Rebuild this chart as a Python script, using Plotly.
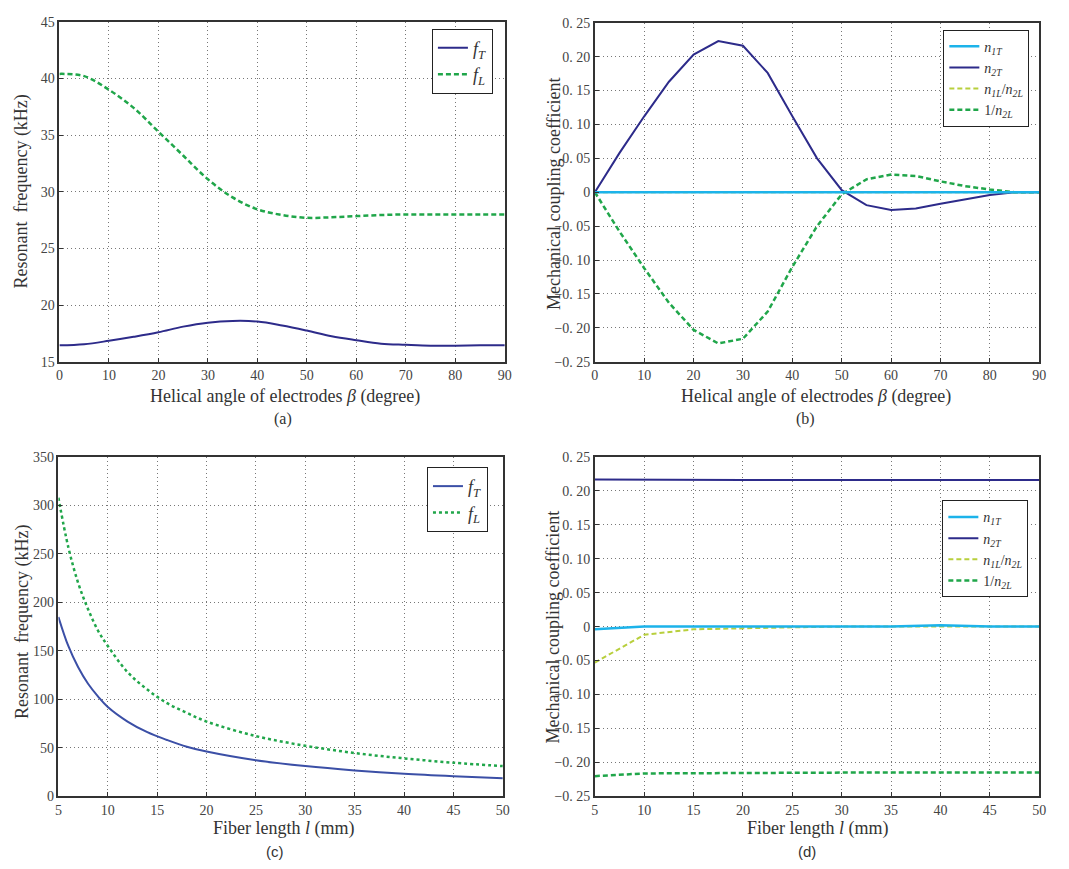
import plotly.graph_objects as go

# ---- (a) resonant frequency vs helical angle ----
beta = [0, 5, 10, 15, 20, 25, 30, 35, 40, 45, 50, 55, 60, 65, 70, 75, 80, 85, 90]
fT_beta = [16.45, 16.55, 16.85, 17.2, 17.6, 18.1, 18.45, 18.6, 18.55, 18.2, 17.75, 17.25, 16.9, 16.6, 16.5, 16.42, 16.42, 16.45, 16.45]
fL_beta = [40.4, 40.2, 39.0, 37.4, 35.3, 33.2, 31.1, 29.5, 28.45, 27.95, 27.7, 27.75, 27.85, 27.95, 28.0, 28.0, 28.0, 28.0, 28.0]

# ---- (b) coupling coefficients vs helical angle ----
n1T_beta = [0.0] * 19
n2T_beta = [0.0, 0.058, 0.112, 0.163, 0.203, 0.223, 0.216, 0.176, 0.112, 0.05, 0.003, -0.019, -0.026, -0.024, -0.017, -0.01, -0.004, 0.0, 0.0]
n1L_n2L_beta = [0.0] * 19
inv_n2L_beta = [0.0, -0.058, -0.112, -0.163, -0.203, -0.223, -0.216, -0.176, -0.11, -0.05, -0.003, 0.019, 0.026, 0.024, 0.016, 0.009, 0.004, 0.0, 0.0]

# ---- (c) resonant frequency vs fiber length ----
length_c = [5, 6, 7, 8, 9, 10, 12, 14, 16, 18, 20, 25, 30, 35, 40, 45, 50]
fT_len = [185, 155, 133, 116, 103, 92, 77, 66, 58, 51, 46, 37, 31, 26.5, 23, 20.5, 18.5]
fL_len = [308, 257, 220, 193, 171, 155, 128, 110, 96, 86, 77, 62, 52, 44.5, 39, 34.5, 31]

# ---- (d) coupling coefficients vs fiber length ----
length_d = [5, 10, 15, 20, 25, 30, 35, 40, 45, 50]
n1T_len = [-0.004, 0.0, 0.0, 0.0, 0.0, 0.0, 0.0, 0.002, 0.0, 0.0]
n2T_len = [0.217, 0.2165, 0.2163, 0.2162, 0.2163, 0.2162, 0.2163, 0.2163, 0.2162, 0.2163]
n1L_n2L_len = [-0.053, -0.012, -0.004, -0.002, -0.001, 0.0, 0.0, 0.0, 0.0, 0.0]
inv_n2L_len = [-0.2205, -0.2165, -0.2162, -0.2158, -0.2158, -0.2145, -0.215, -0.215, -0.215, -0.215]

coef_ticks = [0.25, 0.20, 0.15, 0.10, 0.05, 0, -0.05, -0.10, -0.15, -0.20, -0.25]
NB = "\u00a0"
coef_ticktext = [f"0.{NB}25", f"0.{NB}20", f"0.{NB}15", f"0.{NB}10", f"0.{NB}05", "0",
                 f"\u22120.{NB}05", f"\u22120.{NB}10", f"\u22120.{NB}15", f"\u22120.{NB}20", f"\u22120.{NB}25"]

NAVY = "#2d2b8a"
BLUE = "#3b4fa6"
GREEN = "#20a64a"
CYAN = "#1cb3ea"
LIME = "#b8cf3c"
SERIF = "Liberation Serif"
SANS = "Liberation Sans"

W, H = 1069, 869

def px_x(p):
    return p / W

def px_y(p):
    return 1 - p / H

fig = go.Figure()

lab_fT = "<i>f<sub>T</sub></i>"
lab_fL = "<i>f<sub>L</sub></i>"
lab_n1T = "<i>n<sub>1T</sub></i>"
lab_n2T = "<i>n<sub>2T</sub></i>"
lab_n1L = "<i>n<sub>1L</sub></i>/<i>n<sub>2L</sub></i>"
lab_inv = "1/<i>n<sub>2L</sub></i>"

dash_g = "5px,3px"

# panel (a)
fig.add_trace(go.Scatter(x=beta, y=fT_beta, mode="lines", name=lab_fT, line_shape="spline",
                         line=dict(color=NAVY, width=2), xaxis="x", yaxis="y", legend="legend"))
fig.add_trace(go.Scatter(x=beta, y=fL_beta, mode="lines", name=lab_fL, line_shape="spline",
                         line=dict(color=GREEN, width=2.5, dash=dash_g), xaxis="x", yaxis="y", legend="legend"))
# panel (b)
fig.add_trace(go.Scatter(x=beta, y=n2T_beta, mode="lines", name=lab_n2T,
                         line=dict(color=NAVY, width=2), xaxis="x2", yaxis="y2", legend="legend2", legendrank=2))
fig.add_trace(go.Scatter(x=beta, y=n1L_n2L_beta, mode="lines", name=lab_n1L,
                         line=dict(color=LIME, width=2, dash=dash_g), xaxis="x2", yaxis="y2", legend="legend2", legendrank=3))
fig.add_trace(go.Scatter(x=beta, y=inv_n2L_beta, mode="lines", name=lab_inv,
                         line=dict(color=GREEN, width=2.5, dash=dash_g), xaxis="x2", yaxis="y2", legend="legend2", legendrank=4))
fig.add_trace(go.Scatter(x=beta, y=n1T_beta, mode="lines", name=lab_n1T,
                         line=dict(color=CYAN, width=2.5), xaxis="x2", yaxis="y2", legend="legend2", legendrank=1))
# panel (c)
fig.add_trace(go.Scatter(x=length_c, y=fT_len, mode="lines", name=lab_fT, line_shape="spline",
                         line=dict(color=BLUE, width=2), xaxis="x3", yaxis="y3", legend="legend3"))
fig.add_trace(go.Scatter(x=length_c, y=fL_len, mode="lines", name=lab_fL, line_shape="spline",
                         line=dict(color=GREEN, width=2.5, dash="3px,3px"), xaxis="x3", yaxis="y3", legend="legend3"))
# panel (d)
fig.add_trace(go.Scatter(x=length_d, y=n2T_len, mode="lines", name=lab_n2T,
                         line=dict(color=NAVY, width=2), xaxis="x4", yaxis="y4", legend="legend4", legendrank=2))
fig.add_trace(go.Scatter(x=length_d, y=n1L_n2L_len, mode="lines", name=lab_n1L,
                         line=dict(color=LIME, width=2, dash=dash_g), xaxis="x4", yaxis="y4", legend="legend4", legendrank=3))
fig.add_trace(go.Scatter(x=length_d, y=inv_n2L_len, mode="lines", name=lab_inv,
                         line=dict(color=GREEN, width=2.5, dash=dash_g), xaxis="x4", yaxis="y4", legend="legend4", legendrank=4))
fig.add_trace(go.Scatter(x=length_d, y=n1T_len, mode="lines", name=lab_n1T,
                         line=dict(color=CYAN, width=2.5), xaxis="x4", yaxis="y4", legend="legend4", legendrank=1))

# plot areas in pixels: (left, right, top, bottom)
areas = {
    "1": (56, 506, 15, 361),
    "2": (597, 1046, 16, 361),
    "3": (55, 504, 458, 803),
    "4": (597, 1046, 458, 803),
}

axis_common = dict(
    showline=True, linecolor="#333333", linewidth=1.5, mirror=True,
    showgrid=True, gridcolor="#777777", griddash="1px,3px", gridwidth=1,
    ticks="inside", ticklen=4, tickcolor="#333333",
    tickfont=dict(family=SERIF, size=14, color="#444444"),
    zeroline=False,
)

xcfg = {
    "1": dict(range=[0, 90], tickvals=list(range(0, 91, 10))),
    "2": dict(range=[0, 90], tickvals=list(range(0, 91, 10))),
    "3": dict(range=[5, 50], tickvals=list(range(5, 51, 5))),
    "4": dict(range=[5, 50], tickvals=list(range(5, 51, 5))),
}
ycfg = {
    "1": dict(range=[15, 45], tickvals=list(range(15, 46, 5))),
    "2": dict(range=[-0.25, 0.25], tickvals=coef_ticks, ticktext=coef_ticktext),
    "3": dict(range=[0, 350], tickvals=list(range(0, 351, 50))),
    "4": dict(range=[-0.25, 0.25], tickvals=coef_ticks, ticktext=coef_ticktext),
}

layout = dict(
    width=W, height=H,
    margin=dict(l=0, r=0, t=0, b=0),
    paper_bgcolor="white", plot_bgcolor="white",
    showlegend=True,
    font=dict(family=SERIF, size=14, color="#333333"),
)
for k, (l, r, t, b) in areas.items():
    xa = "xaxis" if k == "1" else f"xaxis{k}"
    ya = "yaxis" if k == "1" else f"yaxis{k}"
    xname = "x" if k == "1" else f"x{k}"
    yname = "y" if k == "1" else f"y{k}"
    layout[xa] = dict(axis_common, domain=[px_x(l), px_x(r)], anchor=yname, **xcfg[k])
    layout[ya] = dict(axis_common, domain=[px_y(b), px_y(t)], anchor=xname, **ycfg[k])

legend_common = dict(
    bgcolor="white", bordercolor="#222222", borderwidth=1,
    xanchor="right", yanchor="top", tracegroupgap=0,
    itemwidth=30, traceorder="normal",
)
layout["legend"] = dict(legend_common, x=px_x(494), y=px_y(22),
                        font=dict(family=SERIF, size=18, color="#333333"))
layout["legend2"] = dict(legend_common, x=px_x(1036), y=px_y(23),
                         font=dict(family=SERIF, size=14, color="#333333"))
layout["legend3"] = dict(legend_common, x=px_x(489), y=px_y(468),
                         font=dict(family=SERIF, size=18, color="#333333"))
layout["legend4"] = dict(legend_common, x=px_x(1035), y=px_y(502),
                         font=dict(family=SERIF, size=14, color="#333333"))

fig.update_layout(**layout)

# axis titles and panel captions
title_font = dict(family=SERIF, size=18, color="#333333")
cap_serif = dict(family=SERIF, size=16, color="#333333")
cap_sans = dict(family=SANS, size=15, color="#333333")
texts = [
    (284, 396, "Helical angle of electrodes <i>\u03b2</i> (degree)", title_font, 0),
    (820, 396, "Helical angle of electrodes <i>\u03b2</i> (degree)", title_font, 0),
    (283, 836, "Fiber length <i>l</i> (mm)", title_font, 0),
    (822, 836, "Fiber length <i>l</i> (mm)", title_font, 0),
    (18, 188, "Resonant  frequency (kHz)", title_font, -90),
    (555, 190, "Mechanical coupling coefficient", title_font, -90),
    (18, 626, "Resonant  frequency (kHz)", title_font, -90),
    (555, 631, "Mechanical coupling coefficient", title_font, -90),
    (282, 419, "(a)", cap_serif, 0),
    (810, 419, "(b)", cap_serif, 0),
    (274, 859, "(c)", cap_sans, 0),
    (811, 859, "(d)", cap_sans, 0),
]
for x, y, t, f, ang in texts:
    fig.add_annotation(x=px_x(x), y=px_y(y), xref="paper", yref="paper", text=t,
                       showarrow=False, font=f, textangle=ang,
                       xanchor="center", yanchor="middle")

fig.write_html("out.html")
